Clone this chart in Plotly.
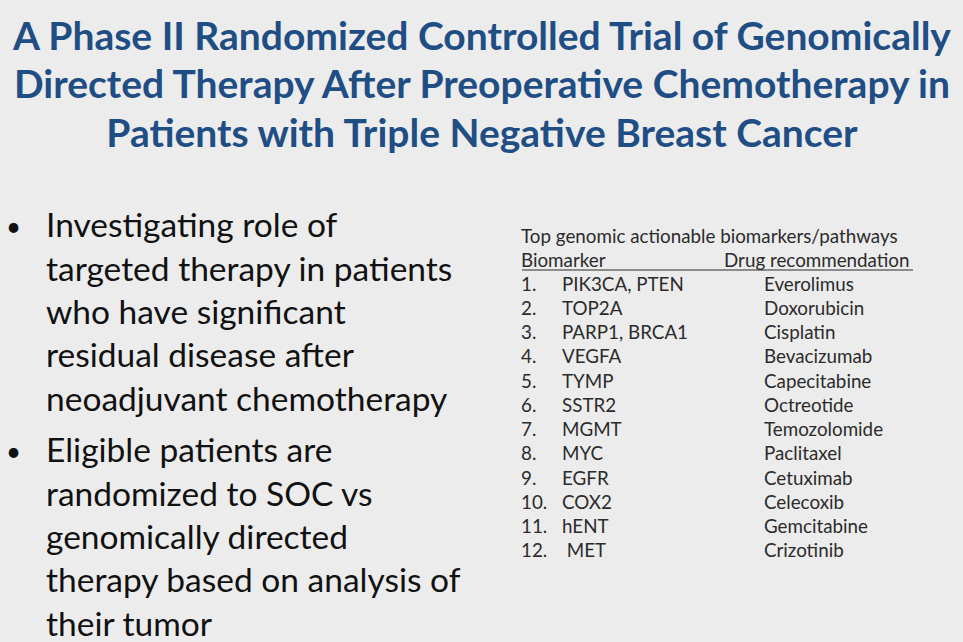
import plotly.graph_objects as go

title_lines = ["A Phase II Randomized Controlled Trial of Genomically",
               "Directed Therapy After Preoperative Chemotherapy in",
               "Patients with Triple Negative Breast Cancer"]

bullet1 = ["Investigating role of", "targeted therapy in patients", "who have significant",
           "residual disease after", "neoadjuvant chemotherapy"]
bullet2 = ["Eligible patients are", "randomized to SOC vs", "genomically directed",
           "therapy based on analysis of", "their tumor"]

table_title = "Top genomic actionable biomarkers/pathways"
col_heads = ["Biomarker", "Drug recommendation"]
row_nums = ["1.", "2.", "3.", "4.", "5.", "6.", "7.", "8.", "9.", "10.", "11.", "12."]
biomarkers = ["PIK3CA, PTEN", "TOP2A", "PARP1, BRCA1", "VEGFA", "TYMP", "SSTR2",
              "MGMT", "MYC", "EGFR", "COX2", "hENT", " MET"]
drugs = ["Everolimus", "Doxorubicin", "Cisplatin", "Bevacizumab", "Capecitabine", "Octreotide",
         "Temozolomide", "Paclitaxel", "Cetuximab", "Celecoxib", "Gemcitabine", "Crizotinib"]

BG = "#ececec"
BLUE = "#1f4e85"
DARK = "#111111"
GREY = "#2b2b2b"
FONT = "Lato"

fig = go.Figure()

# title
fig.add_trace(go.Scatter(x=[482] * 3, y=[40, 88, 137], mode="text", text=["<b>" + t + "</b>" for t in title_lines],
                         textposition="middle center", textfont=dict(family=FONT, size=39, color=BLUE),
                         hoverinfo="skip"))

# bullets
b_rows = [229 + 43.3 * i for i in range(len(bullet1))]
b2_rows = [454 + 43.3 * i for i in range(len(bullet2))]
fig.add_trace(go.Scatter(x=[46] * len(bullet1 + bullet2), y=b_rows + b2_rows, mode="text",
                         text=bullet1 + bullet2, textposition="middle right",
                         textfont=dict(family=FONT, size=33.5, color=DARK), hoverinfo="skip"))
fig.add_trace(go.Scatter(x=[6, 6], y=[b_rows[0], b2_rows[0]], mode="text", text=["•", "•"],
                         textposition="middle right", textfont=dict(family=FONT, size=26, color=DARK),
                         hoverinfo="skip"))

# table
rows_y = [286 + 24.25 * i for i in range(len(row_nums))]
tf = dict(family=FONT, size=18.8, color=GREY)
fig.add_trace(go.Scatter(x=[521], y=[238], mode="text", text=[table_title], textposition="middle right",
                         textfont=tf, hoverinfo="skip"))
fig.add_trace(go.Scatter(x=[521, 724], y=[262, 262], mode="text", text=col_heads, textposition="middle right",
                         textfont=tf, hoverinfo="skip"))
fig.add_trace(go.Scatter(x=[521] * 12, y=rows_y, mode="text", text=row_nums, textposition="middle right",
                         textfont=tf, hoverinfo="skip"))
fig.add_trace(go.Scatter(x=[562] * 12, y=rows_y, mode="text", text=biomarkers, textposition="middle right",
                         textfont=tf, hoverinfo="skip"))
fig.add_trace(go.Scatter(x=[764] * 12, y=rows_y, mode="text", text=drugs, textposition="middle right",
                         textfont=tf, hoverinfo="skip"))

fig.add_shape(type="line", x0=522, x1=913, y0=270, y1=270, line=dict(color=GREY, width=1.2))

fig.update_layout(width=963, height=642, margin=dict(l=0, r=0, t=0, b=0),
                  paper_bgcolor=BG, plot_bgcolor=BG, showlegend=False,
                  xaxis=dict(range=[0, 963], visible=False, fixedrange=True),
                  yaxis=dict(range=[642, 0], visible=False, fixedrange=True))

fig.write_html("out.html", config={"displayModeBar": False},
               post_script="document.body.style.margin='0';document.body.style.overflow='hidden';")
